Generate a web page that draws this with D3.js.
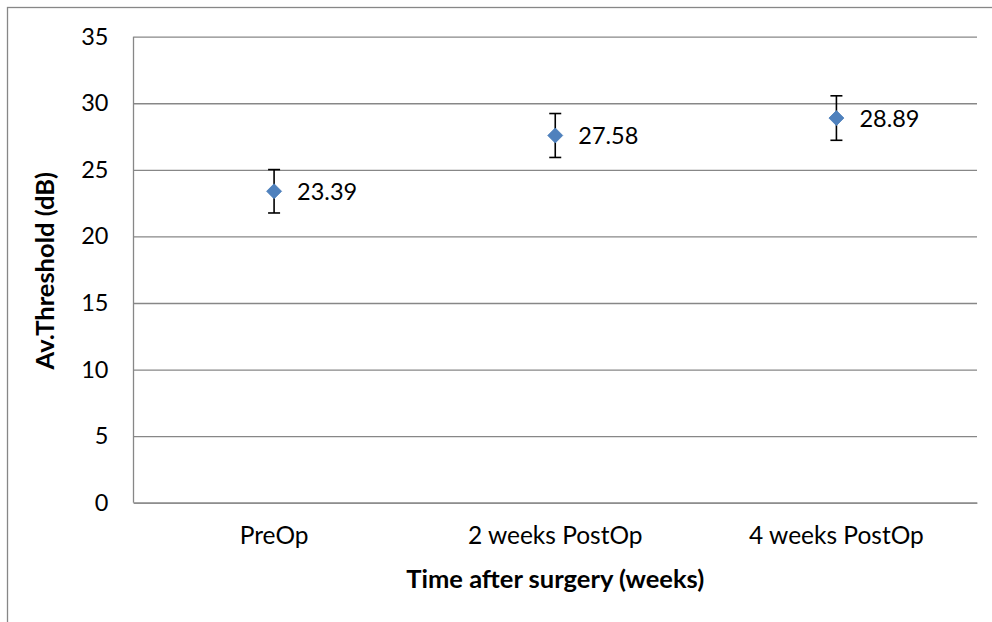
<!DOCTYPE html>
<html>
<head>
<meta charset="utf-8">
<script src="https://cdn.jsdelivr.net/npm/d3@7/dist/d3.min.js"></script>
<style>
  html, body { margin: 0; padding: 0; background: #fff; }
  svg { display: block; }
  text { font-family: Lato, "Open Sans", sans-serif; fill: #000; }
</style>
</head>
<body>
<svg id="chart" width="992" height="622"></svg>
<script>
// Average threshold per time point, with its error bar half-length
const categories = ["PreOp", "2 weeks PostOp", "4 weeks PostOp"];
const thresholds = [23.39, 27.58, 28.89];
const errors = [1.63, 1.65, 1.67];
const yTicks = [0, 5, 10, 15, 20, 25, 30, 35];
const yTitle = "Av.Threshold (dB)";
const xTitle = "Time after surgery (weeks)";

const svg = d3.select("#chart");
const plot = { left: 133.5, right: 977, top: 36.7, bottom: 502.7 };
const gridColor = "#878787";
const numberSize = 23.5;
const categorySize = 24.5;
const titleSize = 25.5;

// Chart frame
svg.append("rect")
  .attr("x", 7.5).attr("y", 7.5)
  .attr("width", 1100).attr("height", 1100)
  .attr("fill", "none").attr("stroke", gridColor).attr("stroke-width", 1.3);

const x = d3.scaleBand().domain(categories).range([plot.left, plot.right]).padding(0);
const y = d3.scaleLinear().domain([0, 35]).range([plot.bottom, plot.top]);
const cx = c => x(c) + x.bandwidth() / 2;

// Horizontal gridlines and y tick labels
const yAxis = d3.axisLeft(y).tickValues(yTicks).tickSize(-(plot.right - plot.left)).tickPadding(25).tickFormat(d3.format("d"));
const gy = svg.append("g").attr("transform", `translate(${plot.left},0)`).call(yAxis);
gy.select(".domain").remove();
gy.selectAll(".tick line").attr("stroke", gridColor).attr("stroke-width", 1.3);
gy.selectAll(".tick text").attr("font-size", numberSize).style("font-family", "Lato, sans-serif").attr("fill", "#000");

// Axis lines
svg.append("line")
  .attr("x1", plot.left).attr("x2", plot.left)
  .attr("y1", plot.top).attr("y2", plot.bottom)
  .attr("stroke", gridColor).attr("stroke-width", 1.3);

const xAxis = d3.axisBottom(x).tickSize(0).tickPadding(24);
const gx = svg.append("g").attr("transform", `translate(0,${plot.bottom})`).call(xAxis);
gx.select(".domain").attr("stroke", gridColor).attr("stroke-width", 1.3);
gx.selectAll(".tick text").attr("font-size", categorySize).style("font-family", "Lato, sans-serif").attr("fill", "#000");

// Axis titles
svg.append("text")
  .attr("x", (plot.left + plot.right) / 2).attr("y", 588)
  .attr("text-anchor", "middle").attr("font-size", titleSize).attr("font-weight", "bold")
  .text(xTitle);

svg.append("text")
  .attr("transform", `translate(54,${(plot.top + plot.bottom) / 2 + 1}) rotate(-90)`)
  .attr("text-anchor", "middle").attr("font-size", titleSize).attr("font-weight", "bold")
  .text(yTitle);

// Error bars
const capHalf = 6;
const eb = svg.append("g").attr("stroke", "#000").attr("stroke-width", 1.6);
categories.forEach((c, i) => {
  const xc = cx(c);
  const hi = y(thresholds[i] + errors[i]);
  const lo = y(thresholds[i] - errors[i]);
  eb.append("line").attr("x1", xc).attr("x2", xc).attr("y1", hi).attr("y2", lo);
  eb.append("line").attr("x1", xc - capHalf).attr("x2", xc + capHalf).attr("y1", hi).attr("y2", hi);
  eb.append("line").attr("x1", xc - capHalf).attr("x2", xc + capHalf).attr("y1", lo).attr("y2", lo);
});

// Diamond markers
const diamond = d3.symbol().type(d3.symbolSquare).size(112);
svg.append("g").selectAll("path")
  .data(categories)
  .join("path")
  .attr("d", diamond)
  .attr("transform", (c, i) => `translate(${cx(c)},${y(thresholds[i])}) rotate(45)`)
  .attr("fill", "#4F81BD")
  .attr("stroke", "#4A7EBB").attr("stroke-width", 0.8);

// Value labels
svg.append("g").selectAll("text")
  .data(categories)
  .join("text")
  .attr("x", c => cx(c) + 23)
  .attr("y", (c, i) => y(thresholds[i]))
  .attr("dy", "0.36em")
  .attr("font-size", numberSize)
  .text((c, i) => thresholds[i].toFixed(2));
</script>
</body>
</html>
